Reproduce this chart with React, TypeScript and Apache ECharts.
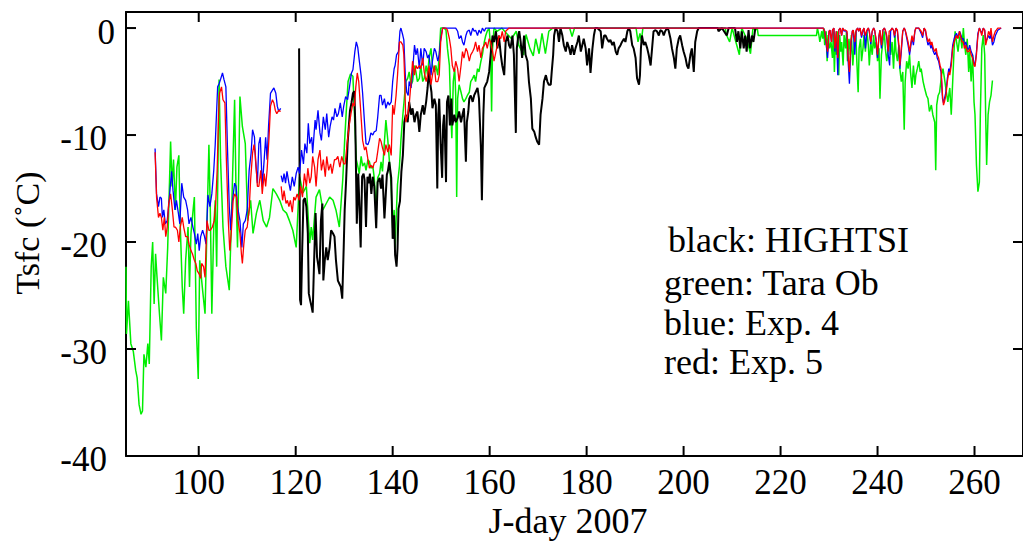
import React, { useEffect, useRef } from "react";
import * as echarts from "echarts";

const xTicks = [100, 120, 140, 160, 180, 200, 220, 240, 260];
const yTicks = [-40, -30, -20, -10, 0];
const xTitle = "J-day 2007";
const yTitle = "Tsfc (˚C)";
const legendLines = ["black: HIGHTSI", "green: Tara Ob", "blue: Exp. 4", "red: Exp. 5"];

const greenTaraOb: any[] = [
  [85.0,-22.3],[85.1,-28.6],[85.5,-25.5],[86.0,-29.5],[86.5,-30.2],[87.0,-32.0],[87.3,-32.7],[87.7,-35.2],[88.1,-36.1],[88.4,-35.8],
  [88.7,-30.5],[89.1,-31.7],[89.5,-29.5],[89.8,-31.4],[90.2,-22.3],[90.5,-20.0],[90.8,-25.8],[91.1,-21.1],[91.4,-23.3],[91.9,-26.7],
  [92.3,-29.2],[92.7,-23.3],[93.2,-24.8],[93.6,-20.5],[94.2,-10.6],[94.5,-14.8],[94.8,-12.3],[95.2,-17.0],[95.5,-13.0],[95.9,-11.9],
  [96.2,-18.6],[96.6,-24.2],[96.9,-26.7],[97.3,-21.7],[97.8,-18.6],[98.1,-24.2],[98.4,-19.2],[98.9,-16.7],[99.1,-15.8],[99.5,-28.0],
  [99.9,-32.8],[100.2,-21.7],[100.8,-24.5],[101.3,-26.7],[101.7,-18.6],[102.1,-10.9],[102.4,-17.3],[102.7,-26.7],[103.1,-18.6],[103.4,-16.1],
  [103.7,-22.3],[104.2,-4.8],[104.5,-12.3],[105.0,-18.6],[105.6,-22.3],[106.3,-24.5],[106.7,-18.6],[107.4,-6.7],[107.7,-15.5],[108.0,-20.5],
  [108.5,-6.4],[109.0,-9.2],[109.6,-10.8],[110.1,-18.0],[110.7,-16.1],[111.2,-19.2],[111.9,-17.3],[112.6,-16.1],[113.3,-18.0],[114.0,-18.6],
  [114.6,-17.7],[115.3,-15.0],[116.0,-15.5],[116.7,-16.1],[117.4,-17.0],[118.1,-17.3],[118.7,-18.0],[119.4,-18.9],[120.1,-20.5],[120.8,-13.9],
  [121.5,-15.4],[122.2,-14.8],[122.9,-20.1],[123.2,-18.6],[123.5,-19.8],[124.2,-15.8],[124.9,-15.1],[125.6,-17.0],[126.3,-16.4],[127.0,-15.8],
  [127.7,-16.1],[128.3,-17.0],[129.0,-18.6],[129.4,-16.1],[129.7,-14.2],[130.1,-10.5],[130.4,-8.0],[130.8,-5.0],[131.3,-4.3],[131.8,-4.5],
  [132.2,-9.0],[132.5,-12.3],[132.8,-12.9],[133.1,-13.6],[133.5,-12.0],[133.8,-12.9],[134.2,-12.6],[134.5,-13.3],[134.9,-12.3],[135.2,-12.5],
  [135.5,-13.1],[135.9,-12.9],[136.2,-14.0],[136.6,-17.2],[136.9,-14.0],[137.3,-13.6],[137.6,-12.5],[137.9,-13.4],[138.3,-10.6],[138.6,-8.6],
  [139.0,-10.5],[139.3,-12.3],[139.7,-14.8],[140.0,-18.7],[140.3,-17.0],[140.5,-20.6],[140.8,-16.8],[141.0,-14.6],[141.4,-12.9],[141.7,-10.5],
  [142.1,-8.1],[142.4,-6.6],[142.7,-5.0],[143.1,-4.7],[143.4,-4.1],[143.8,-5.3],[144.1,-5.0],[144.5,-3.5],[144.8,-4.1],[145.1,-5.0],
  [145.5,-4.7],[145.8,-3.5],[146.2,-5.0],[146.5,-4.7],[146.9,-3.5],[147.2,-4.4],[147.5,-2.8],[147.9,-1.9],[148.2,-3.5],[148.6,-4.1],
  [148.9,-3.5],[149.3,-4.4],[149.6,-2.5],[149.9,0],[150.6,0],[151.0,-0.2],[151.3,-1.9],[151.7,-3.5],[152.0,-8.1],[152.2,-10.3],
  [152.5,-5.0],[152.8,-3.8],[153.0,-6.3],[153.2,-15.8],[153.4,-6.6],[153.7,-5.3],[154.1,-6.0],[154.4,-6.6],[154.7,-6.9],[155.1,-6.6],
  [155.4,-6.3],[155.8,-6.0],[156.1,-5.0],[156.5,-4.7],[156.8,-4.4],[157.1,-5.0],[157.5,-3.8],[157.8,-4.1],[158.2,-3.1],[158.5,-2.5],
  [158.9,-1.3],[159.2,-0.7],[159.5,-0.3],[159.9,0],[160.2,-1.9],[160.4,-7.8],[160.6,-1.9],[160.9,0],[161.5,-0.3],[162.5,0],
  [163.5,-0.5],[164.5,-1.0],[165.5,-0.3],[166.0,-1.6],[167.0,-2.5],[167.5,-0.6],[168.3,-1.9],[169.0,-2.6],[169.5,-1.0],[170.2,-2.4],
  [170.8,-0.5],[171.5,-2.4],[172.2,-0.3],[173.0,0],[176.5,0],[177.0,-0.8],[177.5,0],[190.2,0],[190.6,-1.3],[191.0,-0.5],
  [191.3,-1.2],[191.6,0],[208.6,0],[208.8,-0.6],[209.5,-1.3],[210.0,0],[211.5,-2.5],[212.0,0],[213.0,-1.0],[213.8,-2.4],
  [214.3,0],[214.8,-0.2],[215.2,0],[215.4,-0.7],[227.4,-0.7],[227.6,0],[227.9,-0.65],[228.1,-1.3],[228.5,-0.3],[228.7,-1.0],
  [228.9,0],[229.1,-1.6],[229.4,-0.3],[229.6,-3.1],[229.8,-0.65],[230.1,-1.9],[230.4,-1.3],[230.7,-2.8],[230.9,-0.3],[231.1,-4.1],
  [231.3,-1.0],[231.5,-2.5],[231.8,-0.3],[232.0,-4.4],[232.2,-0.65],[232.4,-2.2],[232.6,-1.3],[232.9,-3.5],[233.1,-0.65],[233.4,-1.9],
  [233.6,-0.3],[233.8,-3.1],[234.1,-1.0],[234.4,-2.5],[234.6,-0.65],[234.9,-3.5],[235.2,-1.3],[235.5,-0.3],[235.7,-2.8],[236.0,-6.0],
  [236.2,-1.9],[236.5,-1.0],[236.7,-3.1],[237.0,-1.9],[237.2,-0.65],[237.5,-2.2],[237.8,-0.3],[238.1,-1.6],[238.3,-3.5],[238.6,-1.3],
  [238.9,-2.5],[239.2,-0.65],[239.4,-1.9],[239.7,-1.3],[240.0,-3.1],[240.3,-1.9],[240.5,-6.6],[240.8,-2.5],[241.1,-1.3],[241.4,-0.3],
  [241.6,-1.9],[241.9,-3.1],[242.2,-1.9],[242.4,-0.65],[242.7,-2.5],[243.0,-1.3],[243.3,-3.8],[243.6,-0.65],[243.8,-2.2],[244.1,-3.1],
  [244.4,-1.6],[244.6,-3.8],[244.9,-5.0],[245.2,-4.1],[245.5,-9.5],[245.7,-5.0],[246.0,-3.1],[246.3,-3.8],[246.6,-2.5],[246.8,-4.1],
  [247.1,-5.6],[247.4,-3.5],[247.7,-5.3],[247.9,-4.4],[248.2,-3.8],[248.5,-3.1],[248.8,-4.1],[249.0,-3.8],[249.4,-5.0],[249.7,-5.6],
  [250.1,-6.3],[250.4,-6.6],[250.7,-7.8],[251.1,-7.2],[251.4,-8.1],[251.8,-8.8],[252.0,-13.3],[252.2,-7.2],[252.5,-6.3],[252.8,-6.0],
  [253.2,-4.4],[253.5,-3.8],[253.8,-4.7],[254.2,-6.0],[254.5,-6.9],[254.9,-5.6],[255.2,-8.1],[255.5,-5.0],[255.8,-1.9],[256.0,-0.3],
  [256.3,-1.3],[256.6,-2.2],[256.9,-1.0],[257.1,-0.65],[257.4,-1.9],[257.7,0],[257.9,-1.3],[258.2,-2.5],[258.5,-1.0],[258.8,-4.1],
  [259.0,-2.2],[259.3,-5.0],[259.6,-2.5],[259.9,-6.9],[260.1,-8.1],[260.4,-12.8],[260.7,-15.3],[261.0,-14.4],[261.2,-8.1],[261.5,-1.9],
  [261.8,-0.65],[262.1,-2.5],[262.3,-8.1],[262.5,-12.8],[262.8,-8.1],[263.1,-6.9],[263.4,-6.3],[263.7,-4.9]
];

const blackHightsi: any[] = [
  [120.7,-1.9],[120.9,-25.4],[121.1,-25.9],[121.35,-20.5],[121.6,-16.1],[121.9,-15.9],[122.2,-16.7],[122.5,-19.2],[122.7,-24.8],[123.0,-25.5],
  [123.3,-26.1],[123.5,-26.6],[123.8,-21.7],[124.1,-17.3],[124.4,-21.4],[124.6,-22.0],[124.9,-23.0],[125.2,-18.0],[125.5,-16.4],[125.7,-23.6],
  [126.0,-21.7],[126.3,-20.5],[126.6,-21.7],[127.0,-20.5],[127.3,-18.9],[127.7,-19.2],[128.0,-19.5],[128.3,-21.7],[128.7,-23.6],[129.0,-23.9],
  [129.3,-24.2],[129.6,-25.3],[129.9,-20.5],[130.1,-17.0],[130.4,-14.2],[130.7,-10.8],[131.0,-8.9],[131.2,-7.7],[131.5,-7.0],[131.8,-6.1],
  [132.1,-5.9],[132.3,-9.2],[132.6,-18.3],[132.9,-13.6],[133.1,-16.1],[133.4,-20.5],[133.7,-13.9],[134.0,-13.6],[134.2,-14.2],[134.5,-18.6],
  [134.8,-13.9],[135.1,-14.5],[135.3,-13.6],[135.6,-15.5],[135.9,-13.9],[136.2,-14.8],[136.6,-18.7],[136.9,-14.4],[137.3,-14.0],[137.6,-15.0],
  [137.9,-13.7],[138.3,-17.8],[138.5,-16.2],[138.8,-13.7],[139.0,-13.4],[139.3,-12.5],[139.7,-14.0],[140.0,-19.7],[140.3,-17.5],[140.5,-21.2],
  [140.8,-22.3],[141.0,-20.6],[141.2,-16.9],[141.5,-16.2],[141.8,-13.4],[142.1,-11.9],[142.4,-8.8],[142.7,-8.1],[143.1,-8.8],[143.4,-6.9],
  [143.8,-8.1],[144.1,-7.5],[144.5,-8.8],[144.8,-8.1],[145.1,-7.8],[145.5,-9.7],[145.8,-8.1],[146.2,-7.2],[146.5,-8.1],[146.9,-6.9],
  [147.2,-5.6],[147.5,-3.8],[147.7,-5.0],[148.0,-6.0],[148.2,-7.5],[148.6,-6.6],[148.9,-7.2],[149.2,-15.0],[149.4,-8.1],[149.6,-6.6],
  [149.9,-10.9],[150.2,-14.0],[150.4,-9.1],[150.6,-8.1],[150.8,-10.6],[151.0,-14.4],[151.2,-6.9],[151.5,-6.3],[151.8,-9.1],[152.1,-6.6],
  [152.3,-9.1],[152.7,-8.1],[153.0,-8.8],[153.4,-8.4],[153.7,-7.8],[154.1,-8.8],[154.4,-8.1],[154.7,-7.5],[155.1,-12.5],[155.3,-8.8],
  [155.6,-7.8],[155.8,-6.6],[156.1,-6.3],[156.5,-6.9],[156.8,-6.3],[157.1,-6.0],[157.5,-5.6],[157.8,-6.6],[158.2,-11.2],[158.4,-16.1],
  [158.7,-8.1],[158.9,-5.6],[159.2,-5.3],[159.5,-5.0],[159.9,-4.1],[160.2,-2.5],[160.6,-0.7],[160.9,-1.3],[161.3,-0.3],[161.6,-1.9],
  [161.9,-0.7],[162.3,-2.5],[162.6,-3.5],[163.0,-4.4],[163.3,-1.3],[163.7,-0.7],[164.0,-1.6],[164.3,-1.9],[164.7,-0.7],[165.0,-2.5],
  [165.4,-9.8],[165.6,-1.9],[165.9,-0.7],[166.1,-0.3],[166.4,-1.3],[166.7,-2.8],[167.1,-0.7],[167.4,-2.5],[167.8,-3.1],[168.1,-5.0],
  [168.5,-6.6],[168.8,-9.4],[169.2,-9.7],[169.5,-10.2],[169.8,-10.6],[170.2,-10.9],[170.5,-8.1],[170.9,-6.6],[171.2,-5.0],[171.6,-4.4],
  [171.9,-5.0],[172.2,-5.3],[172.6,-5.3],[172.8,-4.1],[173.1,-2.5],[173.3,-0.7],[173.6,0],[174.0,-0.3],[174.3,-1.3],[174.6,0],
  [175.0,-0.7],[175.3,-1.6],[175.7,-2.2],[176.0,-1.3],[176.4,-1.9],[176.7,-2.5],[177.0,-1.6],[177.4,-2.5],[177.7,-1.9],[178.1,-1.3],
  [178.4,-0.7],[178.8,-2.2],[179.1,-1.6],[179.4,-1.0],[179.8,-1.9],[180.1,-3.5],[180.5,-1.9],[180.8,-4.2],[181.2,-1.9],[181.5,-0.7],
  [181.8,0],[182.2,0],[182.9,-0.3],[183.2,-1.9],[183.6,-0.7],[183.9,-0.7],[184.2,-1.0],[184.6,-1.3],[184.9,-1.1],[185.3,-1.6],
  [185.6,-1.3],[186.0,-2.2],[186.3,-2.5],[186.6,-1.9],[187.0,-1.6],[187.3,-1.3],[187.7,-1.0],[188.0,-1.3],[188.4,-0.3],[188.7,0],
  [189.0,-0.3],[189.4,-1.6],[189.7,-1.9],[190.1,-2.8],[190.4,-4.7],[190.8,-5.3],[191.0,-4.4],[191.2,-1.9],[191.4,-0.7],[191.8,-1.6],
  [192.1,-1.3],[192.5,-1.9],[192.8,-2.5],[193.2,-3.5],[193.5,-1.9],[193.8,-0.3],[194.2,-0.2],[194.5,-0.3],[194.9,-0.7],[195.2,-0.2],
  [195.6,-0.3],[195.9,-0.7],[196.2,-0.3],[196.6,0],[196.9,-0.2],[197.3,-1.0],[197.6,-1.9],[198.0,-2.8],[198.3,-3.8],[198.6,-1.9],
  [199.0,-1.0],[199.3,-0.7],[199.7,-1.6],[200.0,-2.2],[200.4,-2.8],[200.7,-3.5],[201.0,-3.8],[201.4,-2.5],[201.7,-1.9],[202.1,-4.1],
  [202.4,-1.3],[202.8,-0.3],[203.1,0],[207.0,0],[207.2,-0.3],[207.9,0],[208.9,-0.7],[209.3,0],[210.6,0],[211.0,-1.3],
  [211.3,-0.3],[211.7,-1.9],[212.0,-0.3],[212.4,-1.9],[212.7,-0.7],[213.0,-2.2],[213.4,-0.2],[213.7,-1.9],[214.1,-0.7],[214.4,-1.3],
  [214.8,0]
];

const blueExp4: any[] = [
  [91.0,-11.25],[91.3,-15.5],[91.7,-16.7],[92.0,-15.8],[92.3,-15.9],[92.5,-17.7],[92.8,-17.0],[93.1,-18.3],[93.5,-18.0],[93.9,-16.1],
  [94.4,-13.4],[94.7,-15.2],[95.1,-17.0],[95.4,-16.1],[95.8,-17.3],[96.1,-18.3],[96.5,-14.5],[96.9,-15.8],[97.3,-16.1],[97.7,-17.0],
  [98.0,-18.3],[98.4,-17.7],[98.8,-18.6],[99.1,-19.2],[99.5,-20.2],[99.8,-19.2],[100.1,-20.8],[100.4,-19.5],[100.8,-18.9],[101.2,-19.5],
  [101.5,-20.2],[101.9,-15.6],[102.3,-16.7],[102.7,-15.5],[103.1,-13.3],[103.4,-10.9],[103.9,-5.5],[104.2,-5.2],[104.5,-4.8],[104.9,-4.2],
  [105.2,-4.8],[105.6,-5.5],[105.9,-10.8],[106.3,-16.7],[106.6,-18.9],[106.9,-16.4],[107.4,-14.5],[107.7,-14.8],[108.0,-16.7],[108.5,-18.0],
  [108.9,-20.5],[109.2,-18.3],[109.6,-18.0],[110.0,-17.0],[110.4,-13.3],[110.8,-11.7],[111.1,-9.5],[111.5,-10.2],[111.7,-12.3],[112.1,-14.5],
  [112.4,-10.8],[112.7,-10.2],[113.1,-14.8],[113.5,-12.3],[113.8,-10.2],[114.1,-12.3],[114.4,-9.2],[114.8,-6.1],[115.2,-5.8],[115.5,-5.6],
  [115.9,-6.1],[116.2,-7.3],[116.5,-7.8],[116.9,-7.5],[116.95,"-"],
  [117.0,-13.8],[117.3,-14.4],[117.6,-13.6],[117.9,-14.5],[118.2,-13.4],[118.6,-14.5],[118.9,-15.2],[119.3,-13.9],[119.7,-14.8],[120.1,-13.6],
  [120.5,-13.0],[120.8,-13.6],[121.2,-11.4],[121.6,-12.7],[121.9,-10.8],[122.3,-11.7],[122.6,-8.9],[122.9,-10.8],[123.3,-10.2],[123.5,-11.7],
  [124.0,-8.6],[124.2,-9.5],[124.6,-7.7],[125.0,-9.8],[125.3,-10.5],[125.7,-8.3],[126.1,-9.5],[126.4,-8.0],[126.8,-10.2],[127.1,-9.2],
  [127.5,-8.3],[127.8,-8.6],[128.1,-7.5],[128.5,-8.3],[128.8,-8.0],[129.2,-7.0],[129.6,-8.3],[129.9,-7.3],[130.3,-6.4],[130.7,-6.7],
  [131.1,-5.5],[131.5,-4.2],[131.8,-3.9],[132.2,-2.2],[132.5,-1.3],[132.8,-1.8],[133.1,-3.0],[133.5,-4.5],[133.8,-6.1],[134.2,-8.9],
  [134.5,-10.8],[134.9,-10.9],[135.2,-10.5],[135.5,-9.8],[135.9,-10.0],[136.2,-9.7],[136.6,-9.6],[136.9,-8.4],[137.3,-6.3],[137.6,-6.3],
  [137.9,-7.2],[138.3,-6.6],[138.6,-7.5],[139.0,-6.9],[139.3,-7.2],[139.7,-6.9],[140.0,-5.0],[140.3,-3.8],[140.5,-3.5],[140.8,-2.5],
  [141.2,-2.2],[141.5,-0.3],[141.7,0],[142.1,-0.7],[142.3,-1.1],[142.6,-4.4],[142.9,-6.0],[143.2,-6.3],[143.4,-5.0],[143.8,-5.6],
  [144.1,-4.1],[144.5,-1.6],[144.8,-2.5],[145.1,-1.9],[145.5,-3.8],[145.8,-1.9],[146.2,-3.5],[146.5,-1.9],[146.9,-2.2],[147.2,-2.8],
  [147.5,-2.5],[147.9,-4.4],[148.2,-3.1],[148.6,-1.9],[148.9,-2.2],[149.3,-3.1],[149.6,-2.5],[149.9,-1.0],[150.3,0],[153.0,0],
  [153.4,-0.3],[153.7,-1.0],[154.1,-0.7],[154.4,-1.3],[154.7,-1.6],[155.1,-0.7],[155.4,-0.3],[155.8,-0.2],[156.1,-0.7],[156.5,0],
  [156.8,-0.3],[157.1,-0.2],[157.5,-0.7],[157.8,-0.2],[158.2,-0.5],[158.5,0],[158.9,-0.3],[159.2,0],[228.8,0],[229.1,-0.3],
  [229.5,-1.9],[229.7,-2.8],[230.0,-0.3],[230.2,-0.2],[230.5,-1.3],[230.7,-0.2],[231.0,0],[231.2,-2.2],[231.5,-0.3],[231.8,-4.4],
  [232.0,-0.2],[232.3,0],[232.6,-0.7],[232.8,0],[233.1,-0.3],[233.4,-0.2],[233.7,-0.5],[233.9,-2.8],[234.2,-5.2],[234.5,-1.6],
  [234.8,-0.3],[235.0,-0.2],[235.3,-2.5],[235.6,-0.2],[235.9,0],[236.1,-0.3],[236.4,0],[236.7,-0.9],[237.0,-0.2],[237.2,0],
  [237.5,-1.9],[237.8,-0.3],[238.1,0],[238.3,-0.3],[238.6,-1.5],[238.9,-0.3],[239.2,0],[239.4,-0.2],[239.7,-1.2],[240.0,-2.8],
  [240.3,-0.7],[240.5,-0.2],[240.8,-1.9],[241.1,-0.2],[241.4,0],[241.6,-0.2],[241.9,-0.9],[242.2,-2.5],[242.5,-3.5],[242.7,-0.3],
  [243.0,0],[243.3,-0.2],[243.5,-0.9],[243.8,0],[244.1,-0.3],[244.4,-1.9],[244.6,-3.8],[244.9,-2.2],[245.2,-0.3],[245.5,0],
  [245.7,-0.2],[246.0,-0.9],[246.3,-1.6],[246.6,-2.5],[246.8,-1.9],[247.1,-0.9],[247.4,-1.6],[247.7,-0.3],[247.9,0],[248.5,0],
  [249.0,-0.5],[249.3,-0.9],[249.6,0],[249.9,-0.3],[250.1,-0.9],[250.4,-1.6],[250.7,-1.3],[251.0,-1.9],[251.2,-1.6],[251.5,-2.2],
  [251.8,-2.5],[252.1,-2.2],[252.3,-2.8],[252.6,-3.1],[252.9,-3.8],[253.1,-4.1],[253.4,-6.6],[253.6,-7.0],[253.8,-6.6],[254.1,-6.0],
  [254.4,-4.7],[254.7,-3.8],[254.9,-4.1],[255.2,-3.1],[255.5,-1.6],[255.8,-1.0],[256.0,-0.7],[256.3,-0.5],[256.6,-0.9],[256.9,-0.3],
  [257.1,-0.5],[257.4,-1.0],[257.7,-1.0],[257.9,-1.6],[258.2,-1.3],[258.5,-1.9],[258.8,-2.0],[259.0,-1.6],[259.3,-2.2],[259.6,-2.5],
  [259.9,-3.3],[260.1,-3.5],[260.4,-2.2],[260.7,-0.5],[261.0,0],[261.2,-0.2],[261.5,-0.5],[261.8,0],[262.1,-0.2],[262.3,-1.3],
  [262.6,-1.0],[262.9,-0.7],[263.2,-1.0],[263.4,-0.5],[263.7,-1.6],[264.0,-1.3],[264.3,-0.7],[264.5,-0.5],[264.8,-0.2],[265.5,0]
];

const redExp5: any[] = [
  [91.0,-11.6],[91.3,-15.8],[91.7,-17.7],[92.0,-17.3],[92.3,-17.7],[92.6,-18.9],[92.9,-17.7],[93.2,-19.5],[93.5,-18.6],[93.8,-16.4],
  [94.2,-15.5],[94.5,-16.7],[94.9,-18.6],[95.2,-18.6],[95.6,-18.9],[95.9,-20.0],[96.2,-18.6],[96.6,-17.7],[96.9,-18.6],[97.3,-19.5],
  [97.7,-19.5],[98.0,-20.2],[98.4,-20.8],[98.7,-21.1],[99.1,-21.7],[99.4,-22.0],[99.7,-22.7],[100.1,-23.0],[100.4,-23.4],[100.6,-22.0],
  [101.0,-22.3],[101.3,-23.3],[101.7,-18.0],[102.1,-18.9],[102.4,-18.9],[102.8,-18.6],[103.2,-18.0],[103.5,-16.4],[103.8,-13.3],[104.1,-8.0],
  [104.3,-6.1],[104.7,-5.5],[105.0,-6.7],[105.4,-7.0],[105.7,-12.3],[106.1,-18.0],[106.4,-20.8],[106.7,-19.2],[107.1,-16.1],[107.4,-15.5],
  [107.8,-15.8],[108.1,-18.0],[108.5,-19.2],[108.8,-21.1],[109.0,-22.0],[109.3,-20.2],[109.6,-18.9],[110.0,-18.6],[110.4,-17.0],[110.7,-14.2],
  [111.1,-11.7],[111.4,-10.9],[111.7,-12.0],[112.1,-14.8],[112.4,-14.8],[112.8,-13.3],[113.1,-15.5],[113.5,-13.6],[113.8,-14.8],[114.1,-13.3],
  [114.5,-10.2],[114.8,-7.3],[115.2,-6.7],[115.5,-7.0],[115.8,-7.7],[116.1,-8.0],[116.5,-7.7],[116.9,-7.8],[116.95,"-"],
  [117.0,-14.8],[117.3,-16.1],[117.6,-15.2],[118.0,-16.4],[118.3,-16.1],[118.6,-16.7],[118.9,-16.1],[119.3,-17.2],[119.6,-15.8],[119.9,-16.1],
  [120.3,-15.5],[120.7,-16.1],[121.0,-14.8],[121.4,-15.8],[121.8,-13.6],[122.2,-14.8],[122.5,-13.1],[122.9,-14.5],[123.2,-13.9],[123.5,-12.0],
  [123.9,-13.0],[124.2,-14.8],[124.6,-12.3],[125.0,-11.4],[125.3,-13.3],[125.7,-12.3],[126.1,-13.9],[126.4,-12.0],[126.8,-13.3],[127.2,-12.7],
  [127.5,-13.6],[128.0,-12.3],[128.3,-12.3],[128.7,-12.0],[129.1,-13.0],[129.5,-12.0],[129.9,-12.7],[130.2,-12.7],[130.6,-10.8],[131.0,-9.2],
  [131.4,-8.0],[131.8,-7.0],[132.1,-7.3],[132.4,-5.5],[132.7,-4.2],[133.0,-5.0],[133.4,-7.7],[133.8,-10.5],[134.2,-11.4],[134.5,-11.1],
  [134.9,-12.3],[135.2,-13.1],[135.5,-12.8],[135.9,-13.1],[136.2,-12.6],[136.6,-12.5],[136.9,-11.6],[137.3,-10.3],[137.6,-10.6],[137.9,-11.2],
  [138.3,-11.9],[138.6,-10.9],[139.0,-11.6],[139.3,-10.9],[139.7,-11.9],[140.0,-7.2],[140.3,-8.1],[140.7,-6.3],[141.0,-4.4],[141.4,-1.3],
  [141.7,-1.3],[142.1,-1.6],[142.3,-2.5],[142.5,-5.0],[142.7,-8.8],[143.1,-8.1],[143.4,-7.2],[143.8,-5.0],[144.1,-3.1],[144.5,-4.4],
  [144.8,-3.5],[145.1,-3.8],[145.5,-3.5],[145.8,-3.8],[146.2,-2.8],[146.5,-4.1],[146.9,-5.0],[147.2,-4.4],[147.5,-3.5],[147.9,-5.3],
  [148.2,-4.4],[148.6,-3.5],[148.9,-5.0],[149.3,-5.0],[149.6,-4.4],[149.9,-1.3],[150.3,0],[151.0,0],[151.3,-0.2],[151.7,-1.0],
  [152.0,-1.9],[152.3,-3.5],[152.7,-4.1],[153.0,-3.1],[153.4,-3.8],[153.7,-5.0],[154.1,-3.5],[154.4,-2.2],[154.7,-2.8],[155.1,-1.9],
  [155.4,-2.2],[155.8,-3.1],[156.1,-2.5],[156.5,-2.2],[156.8,-1.9],[157.1,-1.3],[157.5,-2.2],[157.8,-1.6],[158.2,-2.8],[158.5,-1.9],
  [158.9,-1.6],[159.2,-1.3],[159.5,-1.9],[159.9,-1.0],[160.2,-1.3],[160.6,-2.2],[160.9,-3.1],[161.3,-2.2],[161.6,-1.6],[161.9,-0.7],
  [162.3,-1.0],[162.6,-0.3],[163.0,-1.3],[163.3,-0.3],[164.0,0],[228.8,0],[229.1,-0.3],[229.5,-1.6],[229.7,-2.2],[230.0,-0.3],
  [230.2,-0.2],[230.5,-1.3],[230.7,-0.2],[231.0,0],[231.2,-1.9],[231.5,-0.3],[231.8,-2.8],[232.0,-0.2],[232.3,0],[232.6,-0.7],
  [232.8,0],[233.1,-0.2],[233.4,-0.2],[233.7,-0.3],[233.9,-2.5],[234.2,-4.1],[234.5,-1.3],[234.8,-0.3],[235.0,-0.2],[235.3,-1.3],
  [235.6,-0.2],[235.9,0],[236.1,-0.3],[236.4,0],[236.7,-0.7],[237.0,-0.2],[237.2,0],[237.5,-0.7],[237.8,-0.2],[238.1,0],
  [238.3,-0.3],[238.6,-1.3],[238.9,-0.3],[239.2,0],[239.4,-0.2],[239.7,-1.0],[240.0,-2.5],[240.3,-0.7],[240.5,-0.2],[240.8,-1.6],
  [241.1,-0.2],[241.4,0],[241.6,-0.2],[241.9,-0.7],[242.2,-2.2],[242.4,-0.3],[242.7,-0.2],[243.0,0],[243.3,-0.2],[243.5,-0.7],
  [243.8,0],[244.1,-0.2],[244.4,-1.6],[244.6,-3.5],[244.9,-1.9],[245.2,-0.3],[245.5,0],[245.7,-0.2],[246.0,-0.7],[246.3,-1.3],
  [246.6,-2.2],[246.8,-1.6],[247.1,-0.7],[247.4,-1.3],[247.7,-0.3],[247.9,0],[248.5,0],[249.0,-0.3],[249.3,-0.7],[249.6,0],
  [249.9,-0.2],[250.1,-0.7],[250.4,-1.3],[250.7,-1.0],[251.0,-1.6],[251.2,-1.3],[251.5,-1.9],[251.8,-2.2],[252.1,-1.9],[252.3,-2.5],
  [252.6,-2.8],[252.9,-3.5],[253.1,-3.8],[253.4,-6.3],[253.6,-7.2],[253.8,-6.9],[254.1,-6.3],[254.4,-5.0],[254.7,-4.1],[254.9,-4.4],
  [255.2,-3.5],[255.5,-1.9],[255.8,-1.3],[256.0,-1.0],[256.3,-0.7],[256.6,-1.0],[256.9,-0.3],[257.1,-0.7],[257.4,-1.3],[257.7,-1.3],
  [257.9,-1.9],[258.2,-1.6],[258.5,-2.2],[258.8,-2.2],[259.0,-1.9],[259.3,-2.5],[259.6,-2.8],[259.9,-3.5],[260.1,-3.6],[260.4,-2.5],
  [260.7,-0.7],[261.0,0],[261.2,-0.2],[261.5,-0.7],[261.8,0],[262.1,-0.2],[262.3,-1.6],[262.6,-1.0],[262.9,-0.3],[263.2,-0.7],
  [263.4,0],[263.7,-1.3],[264.0,-0.7],[264.3,-0.3],[264.5,-0.2],[264.8,0],[265.5,0]
];

const X_MIN = 85;
const X_MAX = 270;
const Y_MIN = -40;
const Y_MAX = 1.5;
const TICK_PX = 10;
const FONT = '"Liberation Serif", "Times New Roman", serif';

export default function App() {
  const ref = useRef<HTMLDivElement>(null);
  useEffect(() => {
    if (!ref.current) return;
    const chart = echarts.init(ref.current, null, { renderer: "svg" });
    const axisLine = { show: true, onZero: false, lineStyle: { color: "#000", width: 2 } };
    chart.setOption({
      animation: false,
      backgroundColor: "#fff",
      grid: { left: 126, top: 12, right: -2, bottom: 88, containLabel: false },
      xAxis: [
        {
          type: "value", min: X_MIN, max: X_MAX, position: "bottom",
          splitLine: { show: false }, axisLine, axisTick: { show: false },
          axisLabel: { show: true, customValues: xTicks, color: "#000", fontFamily: FONT, fontSize: 35, margin: 9 },
        },
        {
          type: "value", min: X_MIN, max: X_MAX, position: "top",
          splitLine: { show: false }, axisLine, axisTick: { show: false }, axisLabel: { show: false },
        },
      ],
      yAxis: [
        {
          type: "value", min: Y_MIN, max: Y_MAX, position: "left",
          splitLine: { show: false }, axisLine, axisTick: { show: false },
          axisLabel: {
            show: true, customValues: yTicks, color: "#000", fontFamily: FONT, fontSize: 35, margin: 11,
            formatter: (v: number) => (v === 0 ? "{z|0}" : "{n|" + v + "}"),
            rich: {
              n: { fontFamily: FONT, fontSize: 35, color: "#000", padding: [6, 8, 0, 0] },
              z: { fontFamily: FONT, fontSize: 35, color: "#000", padding: [8, 0, 0, 0] },
            },
          },
        },
        {
          type: "value", min: Y_MIN, max: Y_MAX, position: "right",
          splitLine: { show: false }, axisLine, axisTick: { show: false }, axisLabel: { show: false },
        },
      ],
      series: [
        { name: "green", type: "line", data: greenTaraOb, showSymbol: false, symbol: "none", lineStyle: { color: "#00ee00", width: 1.5 }, z: 2 },
        { name: "black", type: "line", data: blackHightsi, showSymbol: false, symbol: "none", lineStyle: { color: "#000", width: 2 }, z: 3 },
        { name: "blue", type: "line", data: blueExp4, showSymbol: false, symbol: "none", connectNulls: false, lineStyle: { color: "#0000ff", width: 1.3 }, z: 4 },
        { name: "red", type: "line", data: redExp5, showSymbol: false, symbol: "none", connectNulls: false, lineStyle: { color: "#ff0000", width: 1.3 }, z: 5 },
      ],
    });

    // tick marks placed through the chart's own axis scales
    const toPx = (x: number, y: number) => chart.convertToPixel({ xAxisIndex: 0, yAxisIndex: 0 }, [x, y]) as number[];
    const tick = (x1: number, y1: number, x2: number, y2: number) => ({
      type: "line", z: 100, silent: true,
      shape: { x1, y1, x2, y2 },
      style: { stroke: "#000", lineWidth: 2 },
    });
    const ticks: any[] = [];
    xTicks.forEach((v) => {
      const b = toPx(v, Y_MIN);
      const t = toPx(v, Y_MAX);
      ticks.push(tick(b[0], b[1], b[0], b[1] - TICK_PX));
      ticks.push(tick(t[0], t[1], t[0], t[1] + TICK_PX));
    });
    yTicks.forEach((v) => {
      const l = toPx(X_MIN, v);
      const r = toPx(X_MAX, v);
      ticks.push(tick(l[0], l[1], l[0] + TICK_PX, l[1]));
      ticks.push(tick(r[0] - TICK_PX, r[1], r[0], r[1]));
    });

    chart.setOption({
      graphic: [
        { type: "text", x: 568, y: 521, style: { text: xTitle, fontSize: 36, fontFamily: FONT, fill: "#000", align: "center", verticalAlign: "middle" } },
        { type: "text", x: 27, y: 233, rotation: Math.PI / 2, style: { text: yTitle, fontSize: 34, fontFamily: FONT, fill: "#000", align: "center", verticalAlign: "middle" } },
        { type: "text", x: 668, y: 240, style: { text: legendLines[0], fontSize: 36, fontFamily: FONT, fill: "#000", align: "left", verticalAlign: "middle" } },
        { type: "text", x: 664, y: 283, style: { text: legendLines[1], fontSize: 36, fontFamily: FONT, fill: "#000", align: "left", verticalAlign: "middle" } },
        { type: "text", x: 664, y: 323, style: { text: legendLines[2], fontSize: 36, fontFamily: FONT, fill: "#000", align: "left", verticalAlign: "middle" } },
        { type: "text", x: 664, y: 362, style: { text: legendLines[3], fontSize: 36, fontFamily: FONT, fill: "#000", align: "left", verticalAlign: "middle" } },
        ...ticks,
      ],
    });
    return () => chart.dispose();
  }, []);
  return <div ref={ref} style={{ position: "absolute", left: 0, top: 0, width: 1023, height: 544 }} />;
}
